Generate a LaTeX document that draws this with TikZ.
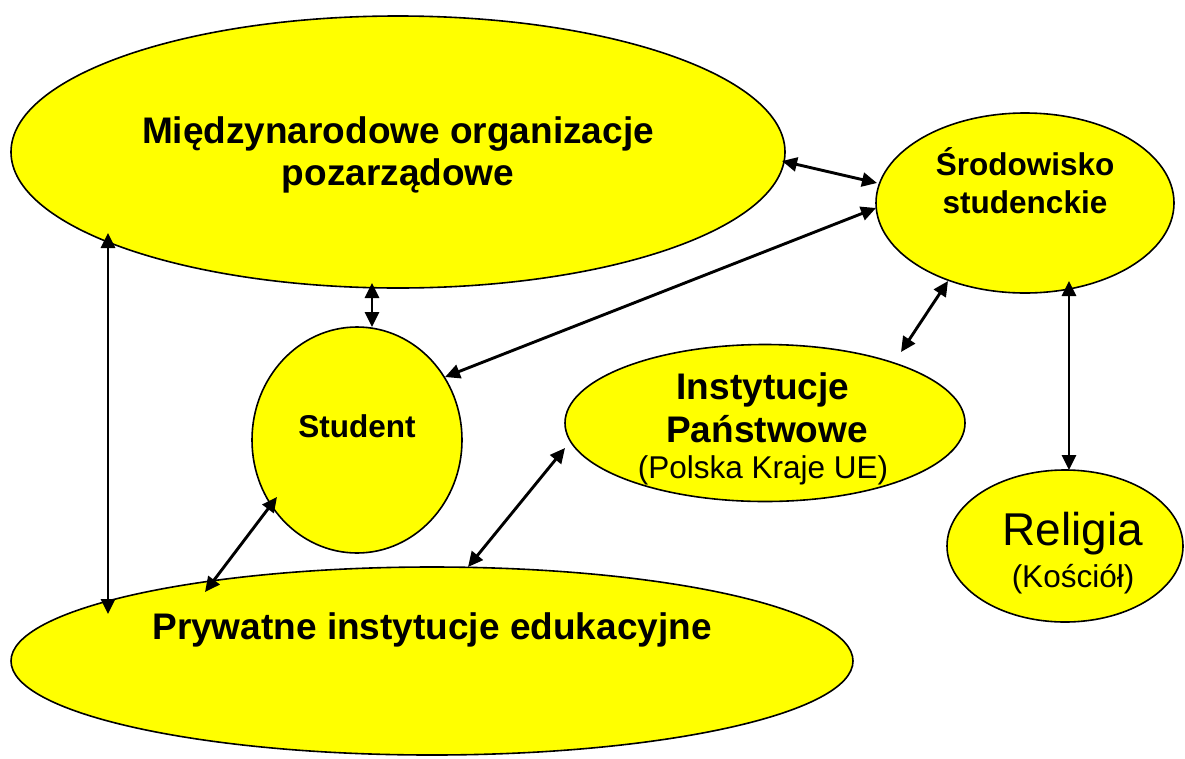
\documentclass[tikz,border=0pt]{standalone}
\usepackage{fontspec}
\setmainfont{Liberation Sans}
\usetikzlibrary{shapes.geometric,arrows.meta,calc}
\definecolor{ellyellow}{RGB}{255,255,0}
\tikzset{
  ell/.style={ellipse, draw=black, line width=1.6pt, fill=ellyellow, inner sep=0pt, outer sep=0pt},
  arr/.style={line width=2.9pt, {Triangle[length=15pt,width=14pt]}-{Triangle[length=15pt,width=14pt]}},
  big/.style={anchor=base, inner sep=0pt, font=\fontsize{37}{42}\selectfont\bfseries},
  mid/.style={anchor=base, inner sep=0pt, font=\fontsize{31.5}{36}\selectfont\bfseries},
  small/.style={anchor=base, inner sep=0pt, font=\fontsize{31.5}{36}\selectfont},
  huge/.style={anchor=base, inner sep=0pt, font=\fontsize{46}{50}\selectfont}
}
\begin{document}
\begin{tikzpicture}[x=1pt,y=-1pt]
\useasboundingbox (0,0) rectangle (1185,758);
% ellipses
\node[ell, minimum width=774pt, minimum height=272pt] (M) at (398,152) {};
\node[ell, minimum width=298pt, minimum height=180pt] (S) at (1025,203) {};
\node[ell, minimum width=210pt, minimum height=226pt] (Stu) at (357,440) {};
\node[ell, minimum width=400pt, minimum height=157pt] (I) at (765,423) {};
\node[ell, minimum width=236pt, minimum height=152pt] (R) at (1065,546) {};
\node[ell, minimum width=842pt, minimum height=188pt] (P) at (432,661) {};
% texts
\node[big] (tM1) at (398,143) {Międzynarodowe organizacje};
\node[big] (tM2) at (398,185) {pozarządowe};
\node[mid] (tS1) at (1025,175) {Środowisko};
\node[mid] (tS2) at (1025,213) {studenckie};
\node[mid] (tStu) at (357,437) {Student};
\node[big] (tI1) at (763,399) {Instytucje};
\node[big] (tI2) at (767,442) {Państwowe};
\node[small] (tI3) at (763,478) {(Polska Kraje UE)};
\node[huge] (tR1) at (1073,545) {Religia};
\node[small] (tR2) at (1073,587) {(Kościół)};
\node[big] (tP) at (432,639) {Prywatne instytucje edukacyjne};
% connectors
\draw[arr] ($(M)+(384,9)$) -- ($(S)+(-148,-20)$);
\draw[arr] ($(S)+(-149,5)$) -- ($(Stu)+(88,-63)$);
\draw[arr] ($(M)+(-26,131)$) -- ($(Stu)+(15,-113)$);
\draw[arr] ($(M)+(-290,81)$) -- ($(P)+(-324,-47)$);
\draw[arr] ($(S)+(-77,78)$) -- ($(I)+(136,-71)$);
\draw[arr] ($(S)+(44,78)$) -- ($(R)+(4,-76)$);
\draw[arr] ($(Stu)+(-80,57)$) -- ($(P)+(-227,-69)$);
\draw[arr] ($(I)+(-200,25)$) -- ($(P)+(36,-94)$);
\end{tikzpicture}
\end{document}
